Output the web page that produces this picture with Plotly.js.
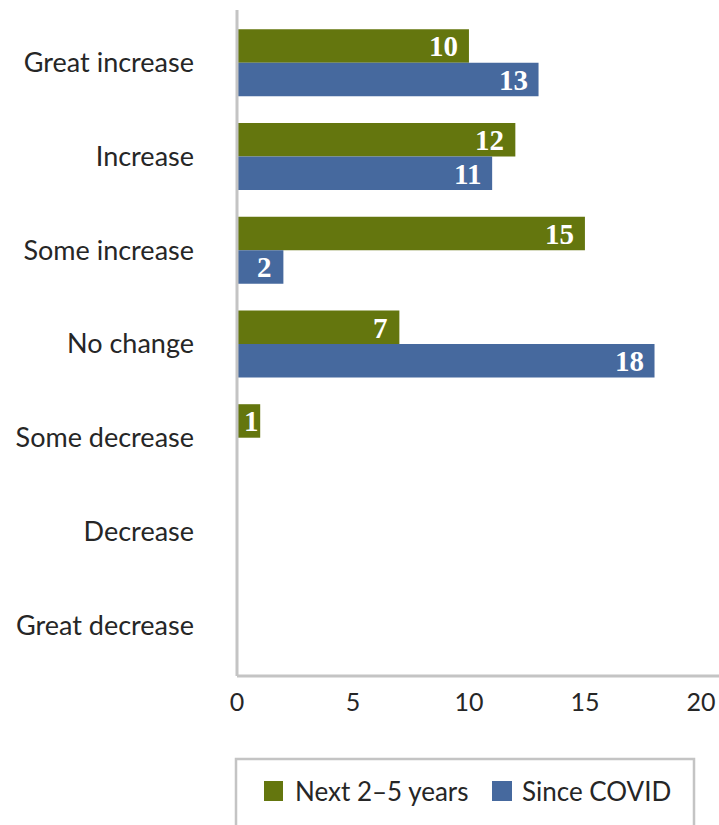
<!DOCTYPE html>
<html>
<head>
<meta charset="utf-8">
<script src="https://cdn.plot.ly/plotly-3.0.1.min.js"></script>
<style>html,body{margin:0;padding:0;background:#fff;}#chart{width:719px;height:825px;}</style>
</head>
<body>
<div id="chart"></div>
<script>
var categories = ["Great increase", "Increase", "Some increase", "No change", "Some decrease", "Decrease", "Great decrease"];
var seriesNames = ["Next 2\u20135 years", "Since COVID"];
var nextYears = [10, 12, 15, 7, 1, null, null];
var sinceCovid = [13, 11, 2, 18, null, null, null];
var xTicks = [0, 5, 10, 15, 20];
var colors = ["#64760E", "#46699E"];

var W = 719, H = 825, ml = 237, mr = 0, mt = 16, mb = 153;
var plotH = H - mt - mb, plotW = W - ml - mr;
var xMax = 20.78;

var traces = [nextYears, sinceCovid].map(function (vals, i) {
  return {
    type: "bar", orientation: "h", name: seriesNames[i],
    y: categories, x: vals, marker: {color: colors[i]},
    hoverinfo: "none", showlegend: false
  };
});

var annotations = [];
[nextYears, sinceCovid].forEach(function (vals, i) {
  vals.forEach(function (v, j) {
    if (v === null) return;
    var small = v * plotW / xMax < 40;
    annotations.push({
      x: small ? v / 2 : v, y: categories[j], xref: "x", yref: "y",
      text: String(v), showarrow: false, xanchor: small ? "center" : "right", yanchor: "middle",
      xshift: small ? 3 : -9, yshift: i === 0 ? 16.5 : -17,
      font: {family: "Liberation Serif", size: 29, color: "#ffffff", weight: 700}
    });
  });
});

// custom legend
var legSq = [[264, 283], [492, 512]];
var legTx = [293, 520];
var shapes = [];
function px2x(px) { return (px - ml) / plotW; }
function py2y(py) { return (H - mb - py) / plotH; }
seriesNames.forEach(function (n, i) {
  shapes.push({type: "rect", xref: "paper", yref: "paper",
    x0: px2x(legSq[i][0]), x1: px2x(legSq[i][1]), y0: py2y(801), y1: py2y(781),
    fillcolor: colors[i], line: {width: 0}});
  annotations.push({xref: "paper", yref: "paper", x: px2x(legTx[i]), y: py2y(791),
    text: n, showarrow: false, xanchor: "left", yanchor: "middle",
    font: {family: "Lato", size: 26, color: "#262626"}});
});
// legend box
shapes.push({type: "rect", xref: "paper", yref: "paper",
  x0: px2x(236), x1: px2x(694), y0: py2y(840), y1: py2y(759),
  line: {color: "#C4C4C4", width: 2.5}, fillcolor: "rgba(0,0,0,0)"});
// axis lines
shapes.push({type: "line", xref: "paper", yref: "paper", x0: 0, x1: 0, y0: py2y(676), y1: py2y(10),
  line: {color: "#C4C4C4", width: 3}});
shapes.push({type: "line", xref: "paper", yref: "paper", x0: 0, x1: 1, y0: py2y(676), y1: py2y(676),
  line: {color: "#C4C4C4", width: 3}});

var layout = {
  width: W, height: H,
  margin: {l: ml, r: mr, t: mt, b: mb, pad: 0},
  paper_bgcolor: "#ffffff", plot_bgcolor: "#ffffff",
  barmode: "group", bargap: 0.285, bargroupgap: 0,
  showlegend: false,
  font: {family: "Lato", color: "#262626"},
  xaxis: {range: [0, xMax], tickvals: xTicks, ticktext: xTicks.map(String),
    showgrid: false, zeroline: false, showline: false, ticks: "",
    ticklabeloverflow: "allow",
    ticklabelstandoff: 13, tickfont: {family: "Lato", size: 25, color: "#262626"}},
  yaxis: {type: "category", categoryorder: "array", categoryarray: categories,
    autorange: "reversed", showgrid: false, zeroline: false, showline: false, ticks: "",
    ticklabelstandoff: 42, tickfont: {family: "Lato", size: 27, color: "#262626"}},
  shapes: shapes, annotations: annotations
};

Plotly.newPlot("chart", traces, layout, {staticPlot: true, displayModeBar: false});
</script>
</body>
</html>
